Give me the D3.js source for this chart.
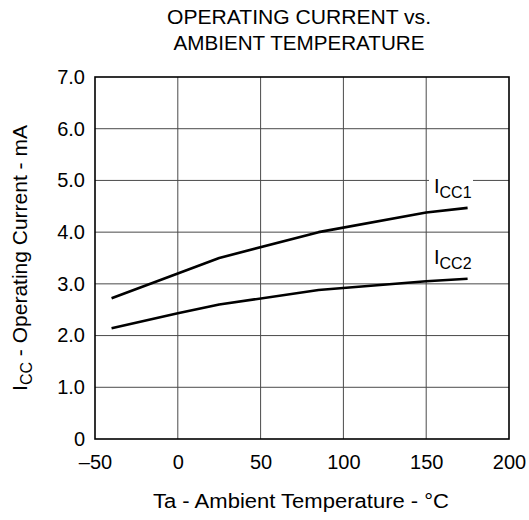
<!DOCTYPE html>
<html>
<head>
<meta charset="utf-8">
<script src="https://cdn.jsdelivr.net/npm/d3@7"></script>
<style>
  html, body { margin: 0; padding: 0; background: #fff; }
  svg text { font-family: "Liberation Sans", Arial, Helvetica, sans-serif; fill: #000; }
</style>
</head>
<body>
<svg id="chart" width="529" height="520"></svg>
<script>
// Operating current vs. ambient temperature
const temps = [-40, 0, 25, 85, 150, 175];
const icc1 = [2.72, 3.2, 3.5, 4.0, 4.38, 4.47];
const icc2 = [2.14, 2.43, 2.6, 2.88, 3.05, 3.1];

const xTicks = [-50, 0, 50, 100, 150, 200];
const xTickLabels = ["\u201350", "0", "50", "100", "150", "200"];
const yTicks = [0, 1, 2, 3, 4, 5, 6, 7];
const yTickLabels = ["0", "1.0", "2.0", "3.0", "4.0", "5.0", "6.0", "7.0"];

const titleLines = ["OPERATING CURRENT vs.", "AMBIENT TEMPERATURE"];

const svg = d3.select("#chart");
const plotL = 95, plotR = 509, plotT = 77, plotB = 439;

const x = d3.scaleLinear().domain([-50, 200]).range([plotL, plotR]);
const y = d3.scaleLinear().domain([0, 7]).range([plotB, plotT]);

// grid
const grid = svg.append("g");
grid.selectAll("line.v").data(xTicks.slice(1, -1)).join("line")
  .attr("class", "v")
  .attr("x1", d => x(d)).attr("x2", d => x(d))
  .attr("y1", plotT).attr("y2", plotB)
  .attr("stroke", "#4a4a4a").attr("stroke-width", 1);
grid.selectAll("line.h").data(yTicks.slice(1, -1)).join("line")
  .attr("class", "h")
  .attr("x1", plotL).attr("x2", plotR)
  .attr("y1", d => y(d)).attr("y2", d => y(d))
  .attr("stroke", "#4a4a4a").attr("stroke-width", 1);

// axes (labels only, no tick marks)
const xAxis = d3.axisBottom(x).tickValues(xTicks).tickSize(0).tickPadding(16)
  .tickFormat((d, i) => xTickLabels[i]);
svg.append("g").attr("transform", `translate(0,${plotB})`).call(xAxis)
  .call(g => g.select(".domain").remove())
  .selectAll("text").attr("font-size", 20).attr("fill", "#000")
  .attr("font-family", "Liberation Sans, Arial, sans-serif");

const yAxis = d3.axisLeft(y).tickValues(yTicks).tickSize(0).tickPadding(10)
  .tickFormat((d, i) => yTickLabels[i]);
svg.append("g").attr("transform", `translate(${plotL},0)`).call(yAxis)
  .call(g => g.select(".domain").remove())
  .selectAll("text").attr("font-size", 20).attr("fill", "#000")
  .attr("font-family", "Liberation Sans, Arial, sans-serif");

// curves
const line = d3.line().x(d => x(d[0])).y(d => y(d[1]));
[icc1, icc2].forEach(series => {
  svg.append("path")
    .datum(temps.map((t, i) => [t, series[i]]))
    .attr("d", line)
    .attr("fill", "none")
    .attr("stroke", "#000")
    .attr("stroke-width", 2.6)
    .attr("stroke-linejoin", "round");
});

// curve labels
function curveLabel(px, py, sub) {
  svg.append("rect").attr("x", px - 5).attr("y", py - 17)
    .attr("width", 44).attr("height", 24).attr("fill", "#fff");
  const t = svg.append("text").attr("x", px).attr("y", py).attr("font-size", 20);
  t.append("tspan").text("I");
  t.append("tspan").attr("dy", 5).attr("font-size", 16).text(sub);
}
curveLabel(434, 193, "CC1");
curveLabel(434, 264, "CC2");

// frame
svg.append("rect").attr("x", plotL).attr("y", plotT)
  .attr("width", plotR - plotL).attr("height", plotB - plotT)
  .attr("fill", "none").attr("stroke", "#000").attr("stroke-width", 1.6);

// title
const titleWidths = [264, 251];
svg.selectAll("text.title").data(titleLines).join("text")
  .attr("class", "title")
  .attr("x", 299).attr("y", (d, i) => 24 + i * 26)
  .attr("text-anchor", "middle").attr("font-size", 20)
  .attr("textLength", (d, i) => titleWidths[i])
  .attr("lengthAdjust", "spacingAndGlyphs")
  .text(d => d);

// x axis title
svg.append("text").attr("x", 301).attr("y", 508)
  .attr("text-anchor", "middle").attr("font-size", 20)
  .attr("textLength", 296).attr("lengthAdjust", "spacingAndGlyphs")
  .text("Ta - Ambient Temperature - \u00b0C");

// y axis title
const yt = svg.append("text")
  .attr("transform", `translate(27,${(plotT + plotB) / 2}) rotate(-90)`)
  .attr("text-anchor", "middle").attr("font-size", 21);
yt.append("tspan").text("I");
yt.append("tspan").attr("dy", 5).attr("font-size", 16).text("CC");
yt.append("tspan").attr("dy", -5).text(" - Operating Current - mA");
</script>
</body>
</html>
